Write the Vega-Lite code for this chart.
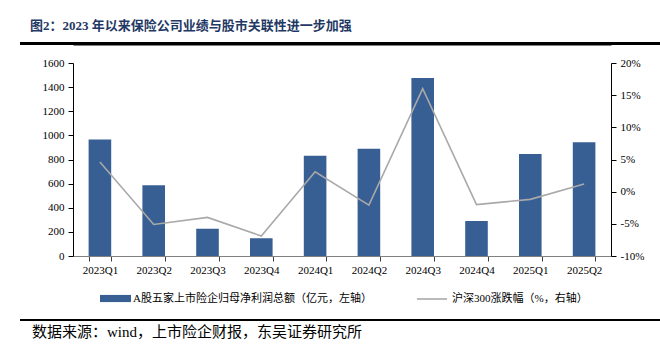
{
  "$schema": "https://vega.github.io/schema/vega-lite/v6.json",
  "padding": {"left": 20, "top": 20, "right": 0, "bottom": 0},
  "background": "white",
  "vconcat": [
    {
      "width": 644,
      "height": 3,
      "data": {"values": [{"part": "header"}]},
      "mark": {"type": "rect", "color": "#000000"},
      "encoding": {},
      "title": {
        "text": "图2：2023 年以来保险公司业绩与股市关联性进一步加强",
        "anchor": "start",
        "font": "Liberation Serif, Noto Sans CJK SC",
        "fontSize": 13,
        "fontWeight": "bold",
        "color": "#1F3864",
        "offset": 9,
        "dx": 10
      }
    },
    {
      "width": 538,
      "height": 193,
      "data": {
        "values": [
          {"quarter": "2023Q1", "profit": 965, "hs300": 4.6},
          {"quarter": "2023Q2", "profit": 586, "hs300": -5.1},
          {"quarter": "2023Q3", "profit": 226, "hs300": -4.0},
          {"quarter": "2023Q4", "profit": 147, "hs300": -6.9},
          {"quarter": "2024Q1", "profit": 832, "hs300": 3.1},
          {"quarter": "2024Q2", "profit": 890, "hs300": -2.1},
          {"quarter": "2024Q3", "profit": 1476, "hs300": 16.0},
          {"quarter": "2024Q4", "profit": 290, "hs300": -2.0},
          {"quarter": "2025Q1", "profit": 846, "hs300": -1.2},
          {"quarter": "2025Q2", "profit": 943, "hs300": 1.2}
        ]
      },
      "layer": [
        {
          "mark": {"type": "bar"},
          "encoding": {
            "x": {
              "field": "quarter", "type": "ordinal", "sort": null,
              "scale": {"paddingInner": 0.58, "paddingOuter": 0.29},
              "axis": {
                "title": null, "labelAngle": 0, "domainColor": "#808080", "domainWidth": 1.2,
                "tickColor": "#404040", "tickSize": 5, "tickBand": "extent",
                "labelFont": "Liberation Serif", "labelFontSize": 11, "labelColor": "#000000", "labelPadding": 3
              }
            },
            "y": {
              "field": "profit", "type": "quantitative",
              "scale": {"domain": [0, 1600]},
              "axis": {
                "title": null, "orient": "left", "values": [0, 200, 400, 600, 800, 1000, 1200, 1400, 1600],
                "format": "d",
                "grid": false, "domainColor": "#000000", "tickColor": "#000000", "tickSize": 5,
                "labelFont": "Liberation Serif", "labelFontSize": 11, "labelColor": "#000000", "labelPadding": 4
              }
            },
            "fill": {
              "datum": "A股五家上市险企归母净利润总额（亿元，左轴）",
              "scale": {"range": ["#385F94"]},
              "legend": {
                "title": null, "orient": "none", "legendX": 80, "legendY": 241, "padding": 0,
                "symbolType": "M-1,-0.23L1,-0.23L1,0.23L-1,0.23Z", "symbolSize": 961, "symbolStrokeWidth": 0,
                "labelFont": "Liberation Serif, Noto Sans CJK SC", "labelFontSize": 11, "labelColor": "#000000", "labelOffset": 2, "labelLimit": 400
              }
            }
          }
        },
        {
          "mark": {"type": "line", "strokeWidth": 1.6},
          "encoding": {
            "x": {
              "field": "quarter", "type": "ordinal", "sort": null,
              "axis": {
                "orient": "top", "offset": 19, "title": null, "labels": false, "ticks": false,
                "grid": false, "domainColor": "#000000", "domainWidth": 2
              }
            },
            "y": {
              "field": "hs300", "type": "quantitative",
              "scale": {"domain": [-10, 20]},
              "axis": {
                "title": null, "orient": "right", "values": [-10, -5, 0, 5, 10, 15, 20],
                "labelExpr": "datum.value + '%'",
                "grid": false, "domainColor": "#000000", "tickColor": "#000000", "tickSize": 5,
                "labelFont": "Liberation Serif", "labelFontSize": 11, "labelColor": "#000000", "labelPadding": 4
              }
            },
            "stroke": {
              "datum": "沪深300涨跌幅（%，右轴）",
              "scale": {"range": ["#A9A9A9"]},
              "legend": {
                "title": null, "orient": "none", "legendX": 396, "legendY": 241, "padding": 0,
                "symbolType": "stroke", "symbolSize": 900, "symbolStrokeWidth": 1.6,
                "labelFont": "Liberation Serif, Noto Sans CJK SC", "labelFontSize": 11, "labelColor": "#000000", "labelOffset": 4, "labelLimit": 400
              }
            }
          }
        }
      ],
      "resolve": {"scale": {"y": "independent"}, "axis": {"x": "independent"}}
    },
    {
      "width": 644,
      "height": 27,
      "data": {"values": []},
      "mark": "rule",
      "encoding": {}
    },
    {
      "width": 644,
      "height": 2,
      "data": {"values": [{"part": "footer"}]},
      "mark": {"type": "rect", "color": "#000000"},
      "encoding": {},
      "title": {
        "text": "数据来源：wind，上市险企财报，东吴证券研究所",
        "orient": "bottom",
        "anchor": "start",
        "font": "Liberation Serif, Noto Sans CJK SC",
        "fontSize": 15,
        "fontWeight": "normal",
        "color": "#000000",
        "offset": 4,
        "dx": 12
      }
    }
  ],
  "spacing": 18,
  "bounds": "flush",
  "center": true,
  "config": {
    "view": {"stroke": null},
    "axis": {"grid": false}
  }
}
